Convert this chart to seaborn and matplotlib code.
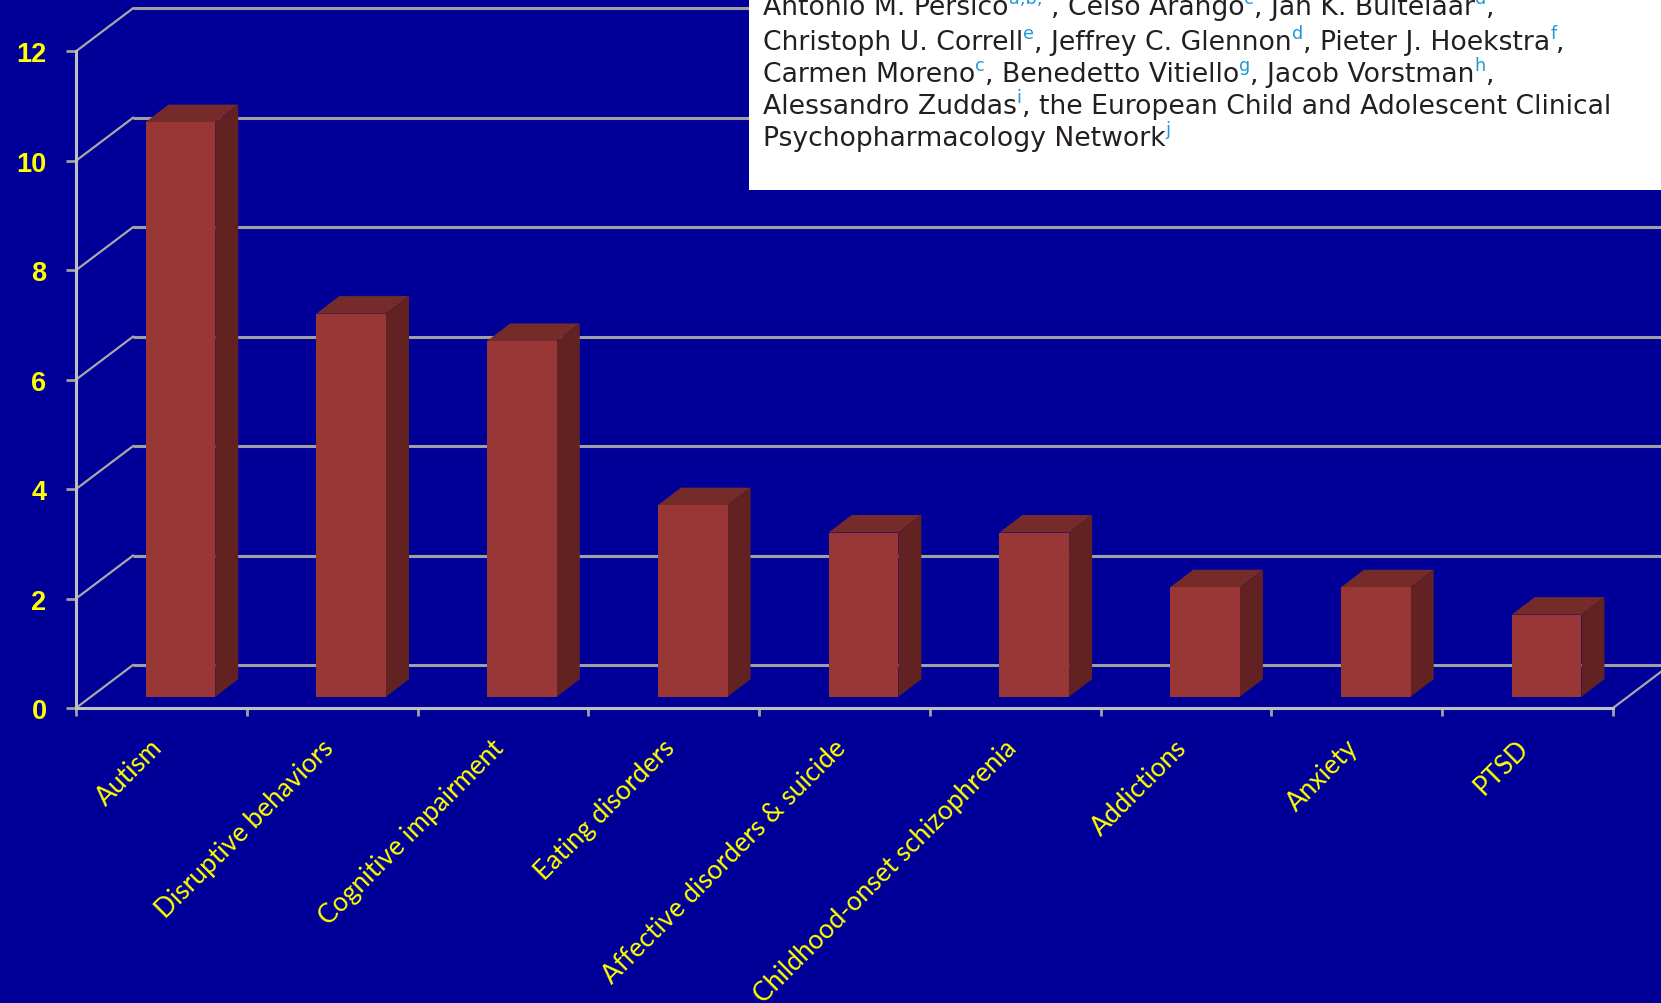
import numpy as np
import pandas as pd
import matplotlib
matplotlib.use("Agg")
import matplotlib.pyplot as plt
import seaborn as sns
from matplotlib import transforms as mtransforms
from matplotlib.patches import Polygon, Rectangle

# ---- data ----
categories = ["Autism", "Disruptive behaviors", "Cognitive impairment",
              "Eating disorders", "Affective disorders & suicide",
              "Childhood-onset schizophrenia", "Addictions", "Anxiety", "PTSD"]
values = [10.5, 7.0, 6.5, 3.5, 3.0, 3.0, 2.0, 2.0, 1.5]
y_ticks = [0, 2, 4, 6, 8, 10, 12]

# author block: (text, is_superscript) runs per line
author_lines = [
    [("Antonio M. Persico", False), ("a,b,*", True), (", Celso Arango", False),
     ("c", True), (", Jan K. Buitelaar", False), ("d", True), (",", False)],
    [("Christoph U. Correll", False), ("e", True), (", Jeffrey C. Glennon", False),
     ("d", True), (", Pieter J. Hoekstra", False), ("f", True), (",", False)],
    [("Carmen Moreno", False), ("c", True), (", Benedetto Vitiello", False),
     ("g", True), (", Jacob Vorstman", False), ("h", True), (",", False)],
    [("Alessandro Zuddas", False), ("i", True),
     (", the European Child and Adolescent Clinical", False)],
    [("Psychopharmacology Network", False), ("j", True)],
]

# ---- style ----
W, H, DPI = 1661, 1004, 100
BG = "#000099"
FRONT = "#983735"
TOP = "#762b2b"
SIDE = "#632222"
YELLOW = "#ffff00"
AXIS_GRAY = "#c0c0c0"
GRID_GRAY = "#a0a0a0"
WALL_GRAY = "#a8a8a8"

fig = plt.figure(figsize=(W / DPI, H / DPI), dpi=DPI, facecolor=BG)

# plot area in pixels
x_left, x_right = 76.0, 1613.0
y_zero, y_top = 709.0, 52.3
ax = fig.add_axes([x_left / W, 1 - y_zero / H,
                   (x_right - x_left) / W, (y_zero - y_top) / H])
ax.set_facecolor(BG)

df = pd.DataFrame({"disorder": categories, "value": values})
sns.barplot(data=df, x="disorder", y="value", order=categories, color=FRONT,
            saturation=1, width=0.408, errorbar=None, linewidth=0, ax=ax)
ax.set_xlim(-0.5, len(categories) - 0.5)
ax.set_ylim(0, 12)

px_x = (x_right - x_left) / len(categories)   # pixels per category
px_y = (y_zero - y_top) / 12                   # pixels per unit
wall = (57 / px_x, 43 / px_y)                  # depth of the back wall
bar_front = (19 / px_x, 11.3 / px_y)           # where bar fronts sit
bar_depth = (23 / px_x, 17.5 / px_y)           # depth of each bar

# back wall gridlines and left wall slants
x0, x1 = -0.5, len(categories) - 0.5
for v in y_ticks:
    ax.plot([x0 + wall[0], x1 + wall[0]], [v + wall[1], v + wall[1]],
            color=GRID_GRAY, lw=2.2, zorder=0.5, clip_on=False,
            solid_capstyle="butt")
    ax.plot([x0, x0 + wall[0]], [v, v + wall[1]], color=WALL_GRAY, lw=1.6,
            zorder=0.6, clip_on=False)
# floor right edge
ax.plot([x1, x1 + wall[0]], [0, wall[1]], color=WALL_GRAY, lw=1.6,
        zorder=0.6, clip_on=False)

# give each bar depth: shift the front face, add top and side faces
shift = mtransforms.Affine2D().translate(bar_front[0], bar_front[1]) + ax.transData
for p in ax.patches:
    bx, bw, bh = p.get_x(), p.get_width(), p.get_height()
    p.set_transform(shift)
    p.set_zorder(1.2)
    fx, fy = bx + bar_front[0], bar_front[1]
    top = Polygon([(fx, bh + fy), (fx + bw, bh + fy),
                   (fx + bw + bar_depth[0], bh + fy + bar_depth[1]),
                   (fx + bar_depth[0], bh + fy + bar_depth[1])],
                  closed=True, facecolor=TOP, edgecolor="none", zorder=1.1)
    side = Polygon([(fx + bw, fy), (fx + bw + bar_depth[0], fy + bar_depth[1]),
                    (fx + bw + bar_depth[0], bh + fy + bar_depth[1]),
                    (fx + bw, bh + fy)],
                   closed=True, facecolor=SIDE, edgecolor="none", zorder=1.1)
    ax.add_patch(top)
    ax.add_patch(side)

# axes, ticks and labels
for s in ["top", "right"]:
    ax.spines[s].set_visible(False)
for s in ["left", "bottom"]:
    ax.spines[s].set_color(AXIS_GRAY)
    ax.spines[s].set_linewidth(2.2)
ax.set_xlabel("")
ax.set_ylabel("")

ax.set_yticks(y_ticks)
ax.set_yticklabels([str(t) for t in y_ticks], fontfamily="Liberation Sans",
                   fontweight="bold")
ax.tick_params(axis="y", length=7.2, width=2.0, color=GRID_GRAY,
               labelcolor=YELLOW, labelsize=19.5, pad=14)

ax.set_xticks(range(len(categories)))
ax.set_xticklabels(categories, rotation=45, ha="right", fontfamily="Lato",
                   fontsize=19, color=YELLOW)
ax.tick_params(axis="x", which="major", length=0, pad=19)
ax.set_xticks(np.arange(-0.5, len(categories), 1.0), minor=True)
ax.tick_params(axis="x", which="minor", length=5.8, width=2.0, color=GRID_GRAY)
nudge = mtransforms.Affine2D().translate(6, 0)
for lab in ax.get_xticklabels():
    lab.set_transform(lab.get_transform() + nudge)

# author block in the upper right
box_left, box_bottom = 749.0, 190.7
fig.add_artist(Rectangle((box_left / W, 1 - box_bottom / H), 1 - box_left / W,
                         box_bottom / H, transform=fig.transFigure,
                         facecolor="white", edgecolor="none", zorder=10))

renderer = fig.canvas.get_renderer()
fs = 19.2
baselines = [15, 50, 82, 114, 146]
for runs, base in zip(author_lines, baselines):
    x = 763.0
    for text, sup in runs:
        size = fs * 0.66 if sup else fs
        raise_px = 11 if sup else 0
        t = fig.text(x / W, 1 - (base - raise_px) / H, text, fontsize=size,
                     fontfamily="DejaVu Sans",
                     color="#1f9ad6" if sup else "#231f20",
                     ha="left", va="baseline", zorder=11)
        x += t.get_window_extent(renderer).width

fig.savefig("out.png", dpi=DPI, facecolor=BG)
